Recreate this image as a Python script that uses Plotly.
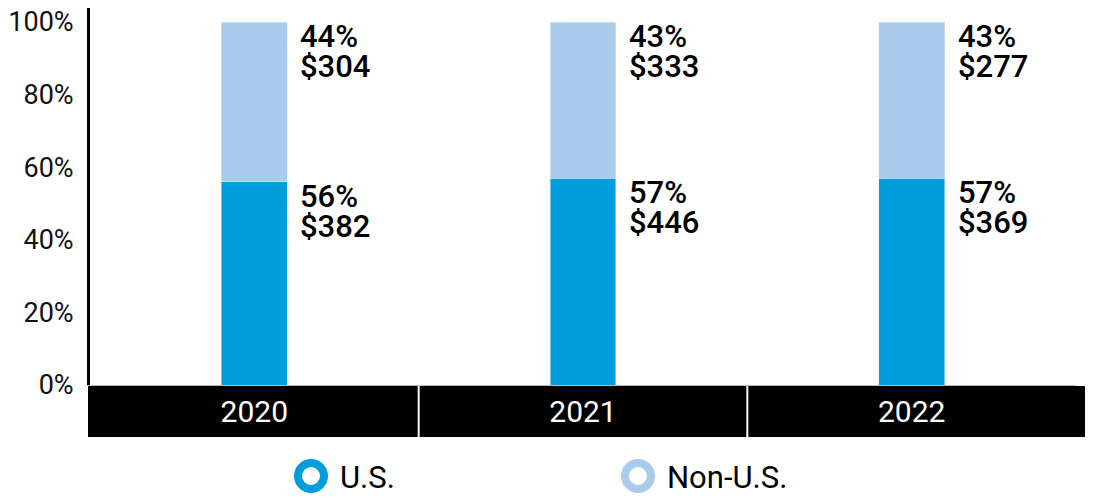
import plotly.graph_objects as go

years = ["2020", "2021", "2022"]
us_pct = [56, 57, 57]
non_us_pct = [44, 43, 43]
us_usd = [382, 446, 369]
non_us_usd = [304, 333, 277]

US_COLOR = "#009DDC"
NON_US_COLOR = "#AACBEC"
FONT = "Roboto, Arial, sans-serif"

# the page has an 8px body margin, so the figure is 8px smaller than the window
W, H = 1085, 493
OFF = 8
# plot area edges, in page pixels
P_LEFT, P_RIGHT, P_TOP, P_BOTTOM = 90, 1076, 8, 385
L = P_LEFT - OFF
R = W - (P_RIGHT - OFF)
T = P_TOP - OFF
B = H - (P_BOTTOM - OFF)
PW, PH = P_RIGHT - P_LEFT, P_BOTTOM - P_TOP


def px_x(p):
    return (p - P_LEFT) / PW


def px_y(p):
    return (P_BOTTOM - p) / PH


fig = go.Figure()
fig.add_trace(go.Bar(x=years, y=us_pct, name="U.S.", marker_color=US_COLOR,
                     width=0.2, showlegend=False))
fig.add_trace(go.Bar(x=years, y=non_us_pct, name="Non-U.S.", marker_color=NON_US_COLOR,
                     width=0.2, showlegend=False))

# segment labels: percent on one line, dollars on the next
label_font = dict(family=FONT, size=31, color="#000", weight=500)
for i in range(len(years)):
    for top, pct, usd in [(us_pct[i], us_pct[i], us_usd[i]),
                          (us_pct[i] + non_us_pct[i], non_us_pct[i], non_us_usd[i])]:
        fig.add_annotation(x=i, y=top, text=f"{pct}%", xanchor="left", yanchor="top",
                           xshift=44, yshift=2, height=29, showarrow=False,
                           font=label_font)
        fig.add_annotation(x=i, y=top, text=f"${usd}", xanchor="left", yanchor="top",
                           xshift=44, yshift=-28, height=29, showarrow=False,
                           font=label_font)

shapes = []
# black band behind the year labels
shapes.append(dict(type="rect", xref="paper", yref="paper", layer="below",
                   x0=px_x(88), x1=px_x(1090), y0=px_y(437), y1=px_y(386),
                   fillcolor="#000", line_width=0))
for xd in [0.5, 1.5]:
    shapes.append(dict(type="line", xref="x", yref="paper", layer="below",
                       x0=xd, x1=xd, y0=px_y(437), y1=px_y(386),
                       line=dict(color="#fff", width=2)))

# hand-made legend with ring markers
legend_items = [("U.S.", US_COLOR, 311), ("Non-U.S.", NON_US_COLOR, 638)]
for label, color, cx in legend_items:
    shapes.append(dict(type="circle", xref="paper", yref="paper",
                       xsizemode="pixel", ysizemode="pixel",
                       xanchor=px_x(cx), yanchor=px_y(476),
                       x0=-13, x1=13, y0=-13, y1=13,
                       line=dict(color=color, width=8), fillcolor="rgba(0,0,0,0)"))
    fig.add_annotation(xref="paper", yref="paper", x=px_x(cx + 27), y=px_y(478),
                       text=label, xanchor="left", yanchor="middle", showarrow=False,
                       font=dict(family=FONT, size=31, color="#000"))

fig.update_layout(
    barmode="stack",
    width=W, height=H,
    margin=dict(l=L, r=R, t=T, b=B, pad=0, autoexpand=False),
    plot_bgcolor="#fff", paper_bgcolor="#fff",
    shapes=shapes,
    font=dict(family=FONT),
)
fig.update_xaxes(type="category", showgrid=False, showline=True, linecolor="#bbb",
                 linewidth=1, ticks="", range=[-0.5, 2.5], automargin=False,
                 tickfont=dict(family=FONT, size=30, color="#fff"))
fig.update_yaxes(range=[0, (P_BOTTOM - P_TOP) / 3.63],
                 tickvals=[0, 20, 40, 60, 80, 100],
                 ticktext=["0%", "20%", "40%", "60%", "80%", "100%"],
                 showgrid=False, zeroline=False, showline=True, linecolor="#000",
                 linewidth=3, ticks="", ticklabelstandoff=8, automargin=False,
                 ticklabeloverflow="allow",
                 tickfont=dict(family=FONT, size=27, color="#111"))

fig.write_html("out.html")
